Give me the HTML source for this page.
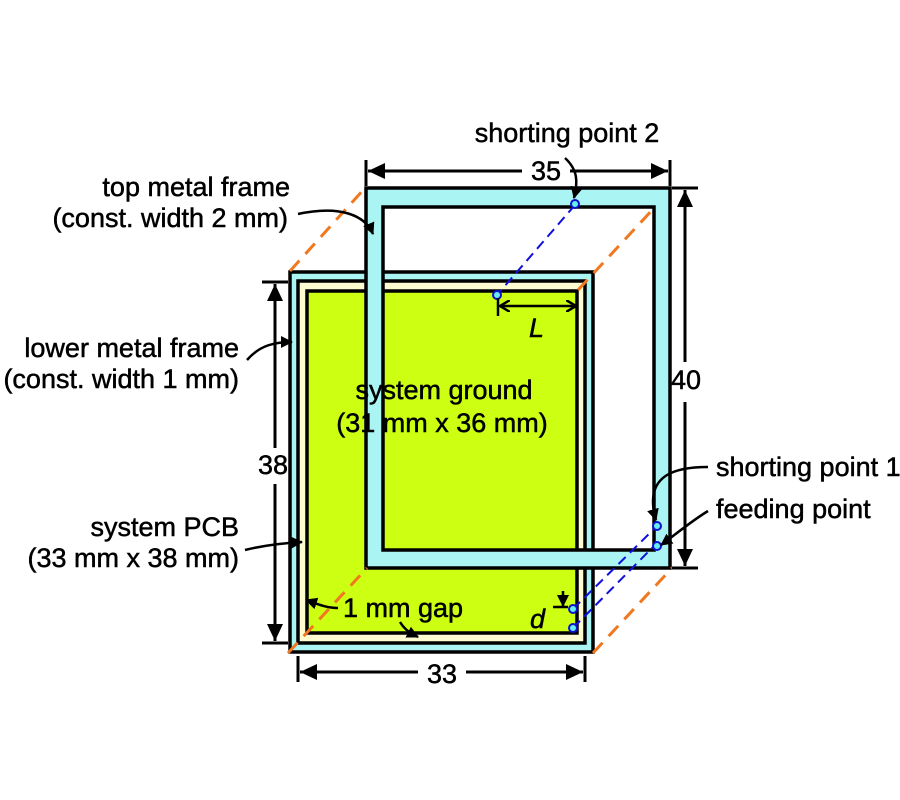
<!DOCTYPE html>
<html><head><meta charset="utf-8"><style>
html,body{margin:0;padding:0;background:#fff;width:900px;height:800px;overflow:hidden}
text{font-family:"Liberation Sans",Arial,sans-serif;font-size:27px;fill:#000;stroke:#000;stroke-width:0.5px}
</style></head><body>
<svg width="900" height="800" viewBox="0 0 900 800" xmlns="http://www.w3.org/2000/svg">
<defs>
<marker id="ah" markerWidth="12" markerHeight="12" refX="11" refY="6" orient="auto" markerUnits="userSpaceOnUse"><path d="M0,0 L12,6 L0,12 z" fill="#000"/></marker>
<marker id="bh" markerWidth="18" markerHeight="18" refX="17" refY="9" orient="auto-start-reverse" markerUnits="userSpaceOnUse"><path d="M0,1 L17,9 L0,17 z" fill="#000"/></marker>
<marker id="sh" markerWidth="12" markerHeight="12" refX="10" refY="6" orient="auto-start-reverse" markerUnits="userSpaceOnUse"><path d="M0,0 L10,6 L0,12" fill="none" stroke="#000" stroke-width="2.5"/></marker>
</defs>
<rect x="290" y="272" width="303" height="380" fill="#aaf4f4" stroke="#000" stroke-width="3.5"/>
<rect x="298" y="281" width="287" height="362" fill="#fdfbd0" stroke="#000" stroke-width="3.5"/>
<rect x="307" y="291" width="270" height="342" fill="#ccff11" stroke="#000" stroke-width="3.5"/>
<path d="M366,188 H670 V568 H366 Z M383,207 V550 H654 V207 Z" fill="#aaf4f4" fill-rule="evenodd" stroke="#000" stroke-width="3.5"/>
<g stroke="#f07820" stroke-width="3" stroke-dasharray="14,9" fill="none">
<line x1="290" y1="271" x2="365" y2="188"/>
<line x1="578" y1="290" x2="655" y2="207"/>
<line x1="288" y1="653" x2="367" y2="568"/>
<line x1="593" y1="653" x2="672" y2="568"/>
</g>
<g stroke="#1010dd" stroke-width="2" stroke-dasharray="10,6" fill="none">
<line x1="575" y1="205" x2="497" y2="295"/>
<line x1="573" y1="609" x2="657" y2="526"/>
<line x1="573" y1="628" x2="655" y2="545"/>
</g>
<g fill="#66eeee" stroke="#1010cc" stroke-width="2">
<circle cx="575" cy="204" r="4"/><circle cx="497" cy="295" r="4"/>
<circle cx="573" cy="609" r="4"/><circle cx="573" cy="628" r="4"/>
<circle cx="657" cy="526" r="4"/><circle cx="657" cy="546" r="4"/>
</g>
<g stroke="#000" stroke-width="3" fill="none">
<line x1="366" y1="160" x2="366" y2="186"/><line x1="670" y1="160" x2="670" y2="186"/>
<line x1="368" y1="171" x2="522" y2="171" marker-start="url(#bh)"/>
<line x1="570" y1="171" x2="668" y2="171" marker-end="url(#bh)"/>
<line x1="672" y1="188" x2="698" y2="188"/><line x1="672" y1="568" x2="698" y2="568"/>
<line x1="685" y1="190" x2="685" y2="362" marker-start="url(#bh)"/>
<line x1="685" y1="402" x2="685" y2="566" marker-end="url(#bh)"/>
<line x1="262" y1="282" x2="288" y2="282"/><line x1="262" y1="643" x2="288" y2="643"/>
<line x1="275" y1="284" x2="275" y2="448" marker-start="url(#bh)"/>
<line x1="275" y1="484" x2="275" y2="641" marker-end="url(#bh)"/>
<line x1="298" y1="656" x2="298" y2="682"/><line x1="585" y1="656" x2="585" y2="682"/>
<line x1="300" y1="672" x2="418" y2="672" marker-start="url(#bh)"/>
<line x1="466" y1="672" x2="583" y2="672" marker-end="url(#bh)"/>
<line x1="498" y1="298" x2="498" y2="316" stroke-width="2.5"/>
<line x1="500" y1="306" x2="576" y2="306" stroke-width="2.5" marker-start="url(#sh)" marker-end="url(#sh)"/>
<path d="M298,214 C340,205 365,215 373,234" stroke-width="2.5" marker-end="url(#ah)"/>
<path d="M247,360 C260,345 275,342 292,342" stroke-width="2.5" marker-end="url(#ah)"/>
<path d="M245,550 C265,545 285,543 302,542" stroke-width="2.5" marker-end="url(#ah)"/>
<path d="M565,158 C578,170 578,182 574,198" stroke-width="2.5" marker-end="url(#ah)"/>
<path d="M708,467 C680,467 642,472 656,520" stroke-width="2.5" marker-end="url(#ah)"/>
<path d="M708,511 C690,522 675,535 661,545" stroke-width="2.5" marker-end="url(#ah)"/>
<path d="M338,608 C325,608 315,603 306,600" stroke-width="2.5" marker-end="url(#ah)"/>
<path d="M400,622 C405,630 410,633 418,637" stroke-width="2.5" marker-end="url(#ah)"/>
<line x1="563" y1="591" x2="563" y2="606" stroke-width="2.5" marker-end="url(#ah)"/>
<line x1="553" y1="607" x2="568" y2="607" stroke-width="2.5"/>
</g>
<g text-anchor="end">
<text x="290" y="196">top metal frame</text>
<text x="288" y="227">(const. width 2 mm)</text>
<text x="239" y="357">lower metal frame</text>
<text x="239" y="388">(const. width 1 mm)</text>
<text x="239" y="536">system PCB</text>
<text x="239" y="567">(33 mm x 38 mm)</text>
</g>
<g text-anchor="middle">
<text x="567" y="142">shorting point 2</text>
<text x="444" y="399">system ground</text>
<text x="442" y="432">(31 mm x 36 mm)</text>
<text x="546" y="180">35</text>
<text x="686" y="389">40</text>
<text x="273" y="474">38</text>
<text x="442" y="683">33</text>
</g>
<text x="716" y="476">shorting point 1</text>
<text x="716" y="518">feeding point</text>
<text x="343" y="617">1 mm gap</text>
<text x="530" y="628" font-style="italic">d</text>
<text x="529" y="337" font-style="italic">L</text>
</svg>
</body></html>
